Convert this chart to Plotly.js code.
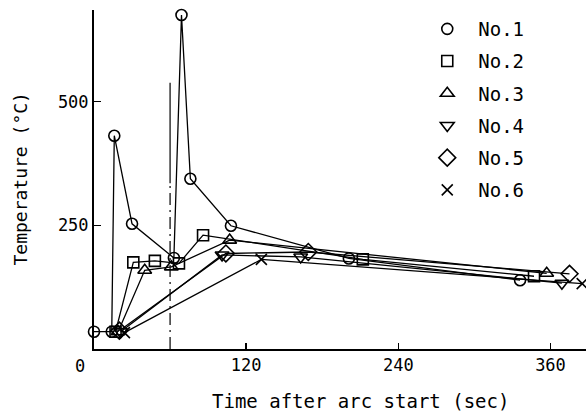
<!DOCTYPE html>
<html>
<head>
<meta charset="utf-8">
<script src="https://cdn.plot.ly/plotly-3.0.1.min.js"></script>
<style>html,body{margin:0;padding:0;background:#fff;}</style>
</head>
<body>
<div id="chart" style="width:586px;height:414px;"></div>
<script>
// ---- data ----
const seriesNames = ["No.1", "No.2", "No.3", "No.4", "No.5", "No.6"];
const no1Time = [0, 14, 16, 30, 63, 69, 76, 108, 201, 336];
const no1Temp = [35, 35, 431, 253, 184, 675, 344, 249, 183, 139];
const no2Time = [17, 31, 48, 67, 86, 212, 347];
const no2Temp = [35, 175, 178, 173, 230, 181, 147];
const no3Time = [19, 40, 61, 107, 357];
const no3Temp = [35, 159, 166, 220, 153];
const no4Time = [21, 101, 163, 369];
const no4Temp = [35, 190, 186, 133];
const no5Time = [20, 104, 169, 375];
const no5Temp = [37, 193, 196, 152];
const no6Time = [24, 132, 385];
const no6Temp = [33, 181, 132];
// vertical reference line at 60 s (solid upper part, dash-dot lower part)
const refTime = [60, 60];
const refSolidTemp = [335, 538];
const refDashTemp = [0, 335];
const xTickVals = [120, 240, 360];
const xTickText = ["120", "240", "360"];
const yTickVals = [250, 500];
const yTickText = ["250", "500"];

const symbols = ["circle-open", "square-open", "triangle-up-open", "triangle-down-open", "diamond-open", "x-thin-open"];
const sizes = [11, 11, 12, 12, 13, 11];
const xs = [no1Time, no2Time, no3Time, no4Time, no5Time, no6Time];
const ys = [no1Temp, no2Temp, no3Temp, no4Temp, no5Temp, no6Temp];

const FONT = "DejaVu Sans Mono, monospace";
const traces = [];
for (let i = 0; i < 6; i++) {
  traces.push({
    x: xs[i], y: ys[i], type: "scatter", mode: "lines+markers",
    name: seriesNames[i], showlegend: false, cliponaxis: false,
    line: {color: "#000", width: 1.3},
    marker: {symbol: symbols[i], size: sizes[i], color: "#000", line: {color: "#000", width: 1.6}}
  });
}
for (let i = 0; i < 6; i++) {
  traces.push({
    x: [null], y: [null], type: "scatter", mode: "markers",
    name: seriesNames[i], showlegend: true, legendgroup: "g" + i,
    marker: {symbol: symbols[i], size: sizes[i], color: "#000", line: {color: "#000", width: 1.6}}
  });
}
traces.push({x: refTime, y: refSolidTemp, type: "scatter", mode: "lines", showlegend: false, hoverinfo: "skip",
  line: {color: "#000", width: 1.2}});
traces.push({x: refTime, y: refDashTemp, type: "scatter", mode: "lines", showlegend: false, hoverinfo: "skip",
  line: {color: "#000", width: 1.2, dash: "12px,5px,2px,5px"}});

const layout = {
  width: 586, height: 414,
  margin: {l: 94, r: 0, t: 10, b: 65},
  paper_bgcolor: "#fff", plot_bgcolor: "#fff",
  font: {family: FONT, color: "#000", size: 17},
  showlegend: true,
  legend: {x: 0.655, y: 1.0, xanchor: "left", yanchor: "top", bgcolor: "rgba(0,0,0,0)",
    font: {family: FONT, size: 19, color: "#000"}, itemwidth: 52, tracegroupgap: 4.5},
  xaxis: {range: [0, 388], showgrid: false, zeroline: false, showline: true, linecolor: "#000", linewidth: 2,
    ticks: "inside", ticklen: 6, tickwidth: 1.5, tickcolor: "#000",
    tickvals: xTickVals, ticktext: xTickText, tickfont: {family: FONT, size: 17}},
  yaxis: {range: [0, 685], showgrid: false, zeroline: false, showline: true, linecolor: "#000", linewidth: 2,
    ticks: "inside", ticklen: 7, tickwidth: 1.5, tickcolor: "#000",
    tickvals: yTickVals, ticktext: yTickText, tickfont: {family: FONT, size: 17}},
  annotations: [
    {text: "0", xref: "x", yref: "paper", x: 0, y: 0, xshift: -14, yshift: -17, showarrow: false,
      font: {family: FONT, size: 17}, xanchor: "center", yanchor: "middle"},
    {text: "Time after arc start (sec)", xref: "paper", yref: "paper", x: (360 - 94) / 492, y: 0,
      yshift: -52, showarrow: false, font: {family: FONT, size: 19}, xanchor: "center", yanchor: "middle"},
    {text: "Temperature (°C)", xref: "paper", yref: "paper", x: 0, y: 0.5, xshift: -74, textangle: -90,
      showarrow: false, font: {family: FONT, size: 18}, xanchor: "center", yanchor: "middle"}
  ]
};

Plotly.newPlot("chart", traces, layout, {displayModeBar: false, staticPlot: true});
</script>
</body>
</html>
